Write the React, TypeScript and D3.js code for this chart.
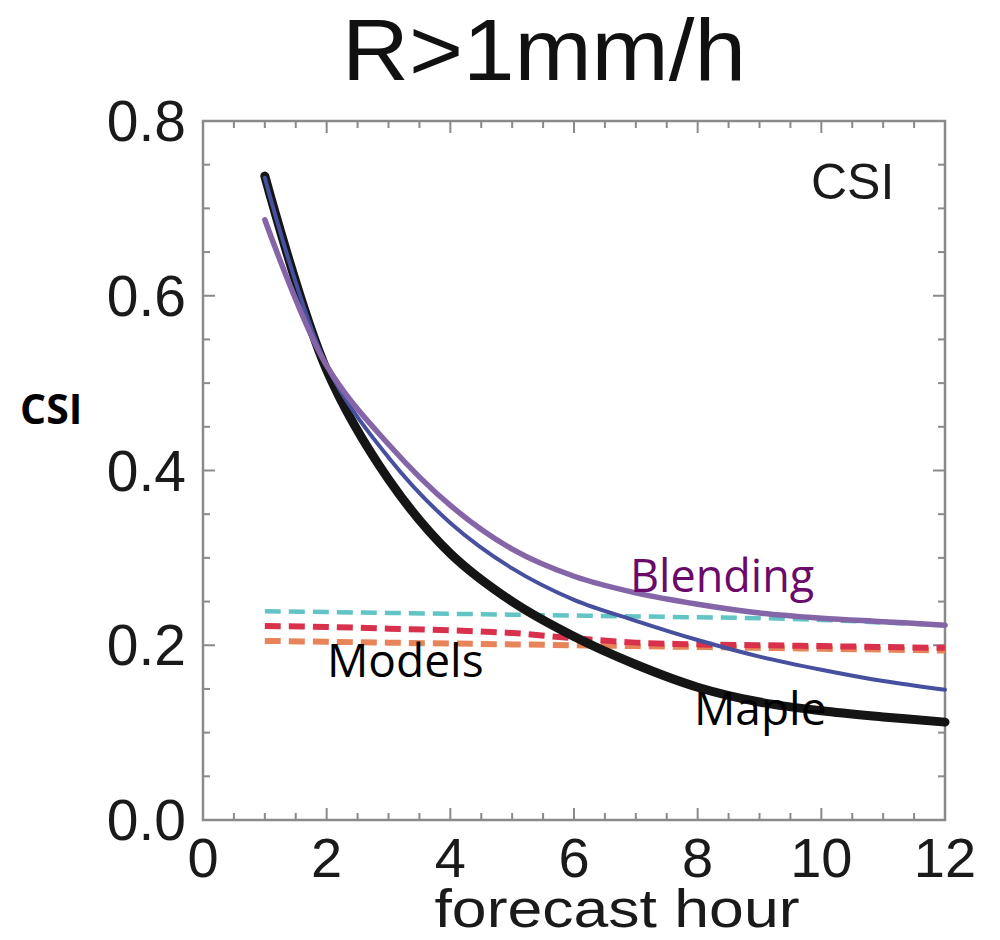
import React from "react";
import * as d3 from "d3";

const hours = [1, 2, 3, 4, 5, 6, 7, 8, 9, 10, 11, 12];
const mapleCSI = [0.737, 0.515, 0.39, 0.305, 0.25, 0.21, 0.178, 0.152, 0.135, 0.125, 0.118, 0.112];
const mapleVariantCSI = [0.735, 0.52, 0.415, 0.34, 0.288, 0.252, 0.228, 0.206, 0.187, 0.172, 0.159, 0.149];
const blendingCSI = [0.687, 0.52, 0.43, 0.36, 0.31, 0.279, 0.26, 0.247, 0.237, 0.231, 0.227, 0.223];
const modelCyanCSI = [0.239, 0.238, 0.237, 0.236, 0.235, 0.234, 0.233, 0.232, 0.231, 0.229, 0.226, 0.223];
const modelRedCSI = [0.222, 0.221, 0.219, 0.217, 0.214, 0.208, 0.203, 0.201, 0.2, 0.199, 0.198, 0.197];
const modelOrangeCSI = [0.205, 0.204, 0.203, 0.202, 0.201, 0.2, 0.199, 0.198, 0.197, 0.196, 0.195, 0.194];
const xTicks = [0, 2, 4, 6, 8, 10, 12];
const yTicks = [0, 0.2, 0.4, 0.6, 0.8];
const xMinor = d3.range(0, 12.01, 0.5);
const yMinor = d3.range(0, 0.801, 0.05);

const W = 1000;
const H = 940;
const L = 203, R = 945, T = 121, B = 820;

export default function App() {
  const x = d3.scaleLinear().domain([0, 12]).range([L, R]);
  const y = d3.scaleLinear().domain([0, 0.8]).range([B, T]);
  const line = d3
    .line<number>()
    .x((_, i) => x(hours[i]))
    .y((d) => y(d))
    .curve(d3.curveCatmullRom.alpha(0.5));

  const font = "'Liberation Sans', Arial, Helvetica, sans-serif";
  const gray = "#8a8a8a";

  const series = [
    { data: modelOrangeCSI, color: "#e8845a", w: 6, dash: "16 8" },
    { data: modelRedCSI, color: "#d9304c", w: 6, dash: "16 8" },
    { data: modelCyanCSI, color: "#62c4c4", w: 4.5, dash: "16 8" },
    { data: mapleCSI, color: "#151515", w: 9, dash: null },
    { data: mapleVariantCSI, color: "#46509e", w: 4, dash: null },
    { data: blendingCSI, color: "#8465a8", w: 5.5, dash: null },
  ];

  return (
    <svg
      width={W}
      height={H}
      style={{ position: "absolute", left: 0, top: 0, background: "#fff" }}
    >
      <rect x={0} y={0} width={W} height={H} fill="#fff" />
      <text
        x={544}
        y={80}
        textAnchor="middle"
        fontFamily={font}
        fontSize={88}
        textLength={404}
        lengthAdjust="spacingAndGlyphs"
        fill="#111"
      >
        R&gt;1mm/h
      </text>

      {xMinor.map((t) => (
        <g key={"xm" + t} stroke={gray} strokeWidth={2}>
          <line x1={x(t)} x2={x(t)} y1={B} y2={B - (t % 2 === 0 ? 12 : 7)} />
          <line x1={x(t)} x2={x(t)} y1={T} y2={T + (t % 2 === 0 ? 12 : 7)} />
        </g>
      ))}
      {yMinor.map((t, i) => (
        <g key={"ym" + i} stroke={gray} strokeWidth={2}>
          <line x1={L} x2={L + (i % 4 === 0 ? 12 : 7)} y1={y(t)} y2={y(t)} />
          <line x1={R} x2={R - (i % 4 === 0 ? 12 : 7)} y1={y(t)} y2={y(t)} />
        </g>
      ))}
      <rect x={L} y={T} width={R - L} height={B - T} fill="none" stroke={gray} strokeWidth={2.5} />

      {xTicks.map((t) => (
        <text
          key={"xt" + t}
          x={x(t)}
          y={877}
          textAnchor="middle"
          fontFamily={font}
          fontSize={56}
          fill="#1a1a1a"
        >
          {t}
        </text>
      ))}
      {yTicks.map((t) => (
        <text
          key={"yt" + t}
          x={186}
          y={y(t) + 20}
          textAnchor="end"
          fontFamily={font}
          fontSize={57}
          fill="#1a1a1a"
        >
          {t.toFixed(1)}
        </text>
      ))}

      <text
        x={617}
        y={927}
        textAnchor="middle"
        fontFamily={font}
        fontSize={54}
        textLength={365}
        lengthAdjust="spacingAndGlyphs"
        fill="#1a1a1a"
      >
        forecast hour
      </text>
      <text x={20} y={424} fontFamily="'Open Sans', sans-serif" fontWeight="bold" fontSize={41} fill="#000">
        CSI
      </text>
      <text x={811} y={199} fontFamily={font} fontSize={50} fill="#1a1a1a">
        CSI
      </text>

      {series.map((s, i) => (
        <path
          key={"s" + i}
          d={line(s.data) || ""}
          fill="none"
          stroke={s.color}
          strokeWidth={s.w}
          strokeDasharray={s.dash || undefined}
          strokeLinecap={s.dash ? "butt" : "round"}
        />
      ))}

      <text x={327} y={677} fontFamily="'Open Sans', sans-serif" fontSize={46} fill="#000">
        Models
      </text>
      <text x={630} y={592} fontFamily="'Open Sans', sans-serif" fontSize={45} fill="#6a0a6a">
        Blending
      </text>
      <text x={694} y={725} fontFamily="'Open Sans', sans-serif" fontSize={46} fill="#000">
        Maple
      </text>
    </svg>
  );
}
